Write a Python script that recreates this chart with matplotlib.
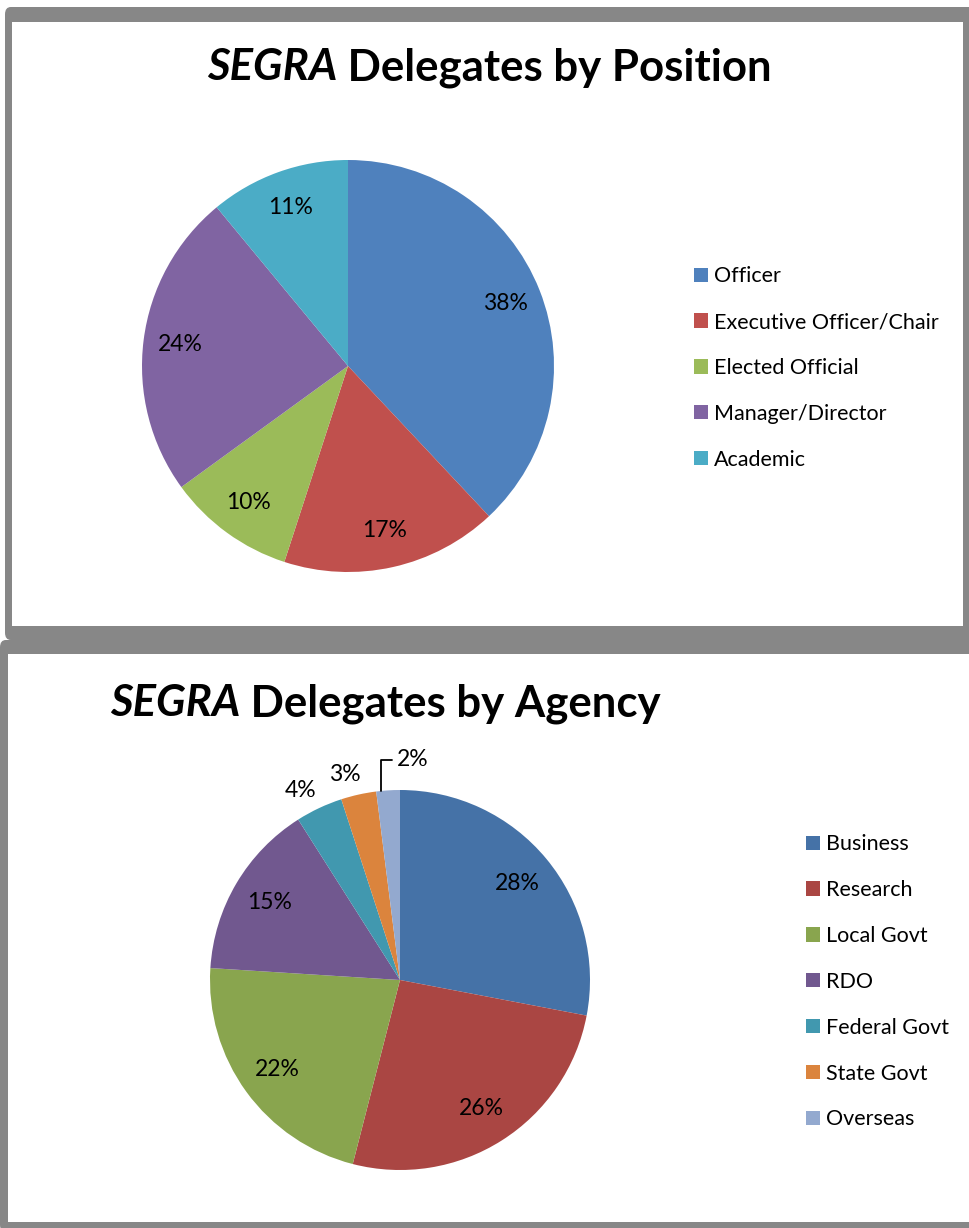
import numpy as np
import matplotlib.pyplot as plt
from matplotlib.patches import FancyBboxPatch, Rectangle

plt.rcParams['font.family'] = ['Lato', 'DejaVu Sans']

# data
pos_labels = ['Officer', 'Executive Officer/Chair', 'Elected Official',
              'Manager/Director', 'Academic']
pos_values = [38, 17, 10, 24, 11]
pos_colors = ['#4F81BD', '#C0504D', '#9BBB59', '#8064A2', '#4BACC6']

agency_labels = ['Business', 'Research', 'Local Govt', 'RDO',
                 'Federal Govt', 'State Govt', 'Overseas']
agency_values = [28, 26, 22, 15, 4, 3, 2]
agency_colors = ['#4572A7', '#AA4643', '#89A54E', '#71588F',
                 '#4198AF', '#DB843D', '#93A9CF']

W, H = 970, 1228
fig = plt.figure(figsize=(W / 100, H / 100), dpi=100)
fig.patch.set_facecolor('white')


def fx(x):
    return x / W


def fy(y):
    return 1 - y / H


def box(x0, y0, x1, y1, col, rounded=False):
    if rounded:
        p = FancyBboxPatch((fx(x0), fy(y1)), fx(x1 - x0), (y1 - y0) / H,
                           boxstyle='round,pad=0,rounding_size=0.006',
                           transform=fig.transFigure, facecolor=col,
                           edgecolor='none', zorder=-5)
    else:
        p = Rectangle((fx(x0), fy(y1)), fx(x1 - x0), (y1 - y0) / H,
                      transform=fig.transFigure, facecolor=col,
                      edgecolor='none', zorder=-4)
    fig.patches.append(p)


# panel frames
grey = '#878787'
box(5, 7, 975, 640, grey, rounded=True)
box(12, 22, 963, 626, 'white')
box(0, 640, 975, 1232, grey, rounded=True)
box(8, 654, 975, 1222, 'white')


def title(x, y, rest):
    # italic "SEGRA" followed by the upright bold rest
    t1 = fig.text(fx(x), fy(y), 'SEGRA', fontsize=31.5, fontweight='bold',
                  fontstyle='italic', va='baseline', ha='left')
    r = fig.canvas.get_renderer()
    bb = t1.get_window_extent(renderer=r)
    fig.text(fx(bb.x1), fy(y), ' ' + rest, fontsize=31.5, fontweight='bold',
             va='baseline', ha='left')


title(207, 80, 'Delegates by Position')
title(110, 716, 'Delegates by Agency')

# top pie
ax1 = fig.add_axes([fx(142), fy(572), 412 / W, 412 / H])
w1, _, _ = ax1.pie(pos_values, colors=pos_colors, startangle=90,
                   counterclock=False, radius=1,
                   autopct=lambda p: '%d%%' % round(p), pctdistance=0.82,
                   textprops=dict(fontsize=16.5, color='black'),
                   wedgeprops=dict(linewidth=0))
ax1.set_xlim(-1, 1)
ax1.set_ylim(-1, 1)
ax1.set_aspect('equal')
ax1.axis('off')

fig.legend(w1, pos_labels, loc='upper left',
           bbox_to_anchor=(fx(675), fy(247)), frameon=False, fontsize=15.5,
           handlelength=0.65, handleheight=0.65, handletextpad=0.25,
           labelspacing=1.2)

# bottom pie
ax2 = fig.add_axes([fx(210), fy(1170), 380 / W, 380 / H])
w2, _, txt2 = ax2.pie(agency_values, colors=agency_colors, startangle=90,
                      counterclock=False, radius=1,
                      autopct=lambda p: '%d%%' % round(p), pctdistance=0.8,
                      textprops=dict(fontsize=16.5, color='black'),
                      wedgeprops=dict(linewidth=0))
ax2.set_xlim(-1, 1)
ax2.set_ylim(-1, 1)
ax2.set_aspect('equal')
ax2.axis('off')

# small slices get their labels outside
for i, (wd, tx) in enumerate(zip(w2, txt2)):
    if agency_values[i] >= 10:
        continue
    mid = np.deg2rad((wd.theta1 + wd.theta2) / 2 + 2)
    if i == len(w2) - 1:
        tx.set_visible(False)
        ax2.annotate(tx.get_text(), xy=(np.cos(mid), np.sin(mid)),
                     xytext=(np.cos(mid) + 0.08, 1.16), fontsize=16.5,
                     ha='left', va='center',
                     arrowprops=dict(arrowstyle='-', color='black', lw=1.3,
                                     shrinkA=1, shrinkB=0,
                                     connectionstyle='angle,angleA=0,angleB=90,rad=0'),
                     annotation_clip=False)
    else:
        tx.set_position((np.cos(mid) * 1.15, np.sin(mid) * 1.12))

fig.legend(w2, agency_labels, loc='upper left',
           bbox_to_anchor=(fx(787), fy(815)), frameon=False, fontsize=15.5,
           handlelength=0.65, handleheight=0.65, handletextpad=0.25,
           labelspacing=1.2)

fig.savefig('out.png', dpi=100, facecolor=fig.get_facecolor())
